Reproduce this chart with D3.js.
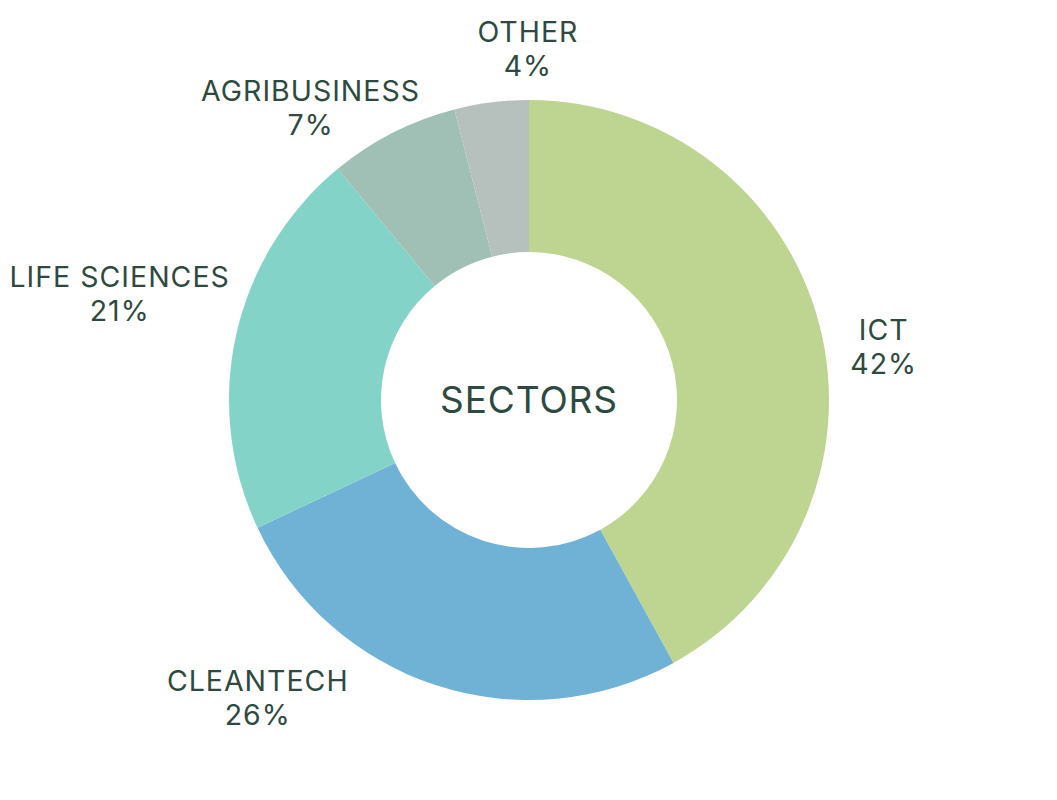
<!DOCTYPE html>
<html>
<head>
<meta charset="utf-8">
<script src="https://cdn.jsdelivr.net/npm/d3@7"></script>
<style>
  body { margin: 0; background: #fff; }
</style>
</head>
<body>
<div id="chart"></div>
<script>
let width = 1057,
    height = 800

// data
let sectors = ["ICT", "CLEANTECH", "LIFE SCIENCES", "AGRIBUSINESS", "OTHER"]
let shares = [42, 26, 21, 7, 4]
let colors = ["#bdd591", "#70b2d6", "#84d3c9", "#a0c0b5", "#b6c1bd"]
// label nudges from the outer centroid, in px
let labelNudge = [[6, 38], [-160, -43], [-58, -26], [-55, 30], [44, 7]]

let svg = d3.select("#chart").append("svg")
    .attr("width", width)
    .attr("height", height)

let cx = 529, cy = 400
let outerR = 300, innerR = 148

let pie = d3.pie().sort(null).value(d => d.value)
let arcs = pie(sectors.map((s, i) => ({name: s, value: shares[i], i: i})))

let arc = d3.arc().innerRadius(innerR).outerRadius(outerR)
let labelArc = d3.arc().innerRadius(360).outerRadius(360)

let g = svg.append("g").attr("transform", `translate(${cx},${cy})`)

g.selectAll("path")
    .data(arcs)
    .enter()
    .append("path")
    .attr("d", arc)
    .attr("fill", d => colors[d.data.i])

let ink = "#2e4a40"

let labels = g.selectAll("text.lbl")
    .data(arcs)
    .enter()
    .append("text")
    .attr("class", "lbl")
    .attr("text-anchor", "middle")
    .attr("font-family", "Inter, 'Noto Sans', sans-serif")
    .attr("font-size", 28.5)
    .attr("letter-spacing", 1)
    .attr("fill", ink)
    .attr("transform", d => {
        let c = labelArc.centroid(d)
        let n = labelNudge[d.data.i]
        return `translate(${c[0] + n[0]},${c[1] + n[1]})`
    })

labels.append("tspan")
    .attr("x", 0)
    .attr("y", -8)
    .text(d => d.data.name)

labels.append("tspan")
    .attr("x", 0)
    .attr("y", 26)
    .text(d => d.data.value + "%")

// center title
g.append("text")
    .attr("text-anchor", "middle")
    .attr("font-family", "Inter, 'Noto Sans', sans-serif")
    .attr("font-size", 37)
    .attr("letter-spacing", 0.9)
    .attr("fill", ink)
    .attr("y", 13)
    .text("SECTORS")
</script>
</body>
</html>
